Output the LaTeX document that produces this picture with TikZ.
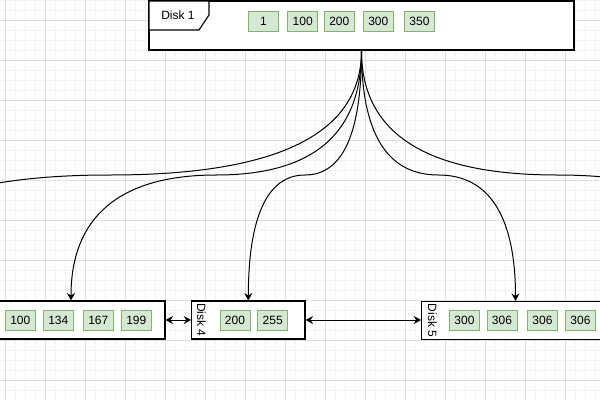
\documentclass[tikz,border=0pt]{standalone}
\usepackage{fontspec}
\setmainfont{Liberation Sans}
\usetikzlibrary{arrows.meta}
\definecolor{cellfill}{HTML}{D5E8D4}
\definecolor{cellline}{HTML}{82B366}
\definecolor{gridminor}{HTML}{F2F2F2}
\definecolor{gridmajor}{HTML}{E0E0E0}
\begin{document}
\begin{tikzpicture}[x=0.75pt,y=-0.75pt,
  every node/.style={font=\fontsize{9pt}{10pt}\selectfont},
  cell/.style={draw=cellline,fill=cellfill,line width=0.75pt,minimum width=22.5pt,minimum height=15pt,inner sep=0pt},
  disk/.style={draw=black,fill=white,line width=0.9pt,inner sep=0pt,minimum height=28.5pt},
  link/.style={draw=black,line width=0.75pt,-{Stealth[length=5.5pt,width=6pt]}},
  dlink/.style={draw=black,line width=0.75pt,{Stealth[length=5.5pt,width=6pt]}-{Stealth[length=5.5pt,width=6pt]}}
]
\useasboundingbox (0,0) rectangle (600,400);
\clip (0,0) rectangle (600,400);
\fill[white] (0,0) rectangle (600,400);
% grid
\foreach \x in {5,15,...,595} \draw[gridminor,line width=0.6pt] (\x,0) -- (\x,400);
\foreach \y in {0,10,...,400} \draw[gridminor,line width=0.6pt] (0,\y) -- (600,\y);
\foreach \x in {5,45,...,595} \draw[gridmajor,line width=0.6pt] (\x,0) -- (\x,400);
\foreach \y in {20,60,...,400} \draw[gridmajor,line width=0.6pt] (0,\y) -- (600,\y);

% Disk 1
\node[disk,minimum width=318.75pt,minimum height=36.75pt] (d1) at (361.5,25.5) {};
\draw[line width=0.9pt,fill=white] (149,1) -- (209,1) -- (209,15) -- (199,30) -- (149,30) -- cycle;
\node (d1lab) at (178,15.5) {Disk 1};
\node[cell] (c11) at (263.5,21) {1};
\node[cell] (c12) at (302.7,21) {100};
\node[cell] (c13) at (339.3,21) {200};
\node[cell] (c14) at (378.3,21) {300};
\node[cell] (c15) at (419.5,21) {350};

% bottom boxes
\node[disk,minimum width=141pt] (dl) at (71,320) {};
\node[cell] (cl1) at (20.3,320.5) {100};
\node[cell] (cl2) at (58.3,320.5) {134};
\node[cell] (cl3) at (98.3,320.5) {167};
\node[cell] (cl4) at (136.3,320.5) {199};

\node[disk,minimum width=85pt] (d4) at (248.35,320) {};
\node[rotate=-90] (d4lab) at (201.5,320) {Disk 4};
\node[cell] (c41) at (235,320.5) {200};
\node[cell] (c42) at (272.7,320.5) {255};

\node[disk,minimum width=140.7pt] (d5) at (515.5,320.5) {};
\node[rotate=-90] (d5lab) at (432.5,320.5) {Disk 5};
\node[cell] (c51) at (464.5,320.5) {300};
\node[cell] (c52) at (502,320.5) {306};
\node[cell] (c53) at (542.5,320.5) {306};
\node[cell] (c54) at (580.5,320.5) {306};

% off-screen targets and curve midpoints
\coordinate (offL) at (-142,300);
\coordinate (offR) at (753,300);
\coordinate (m1) at (109.75,175);
\coordinate (m2) at (216.25,175);
\coordinate (m3) at (304.95,175);
\coordinate (m4) at (438.5,175);
\coordinate (m5) at (557.25,175);

% curved connectors
\draw[line width=0.75pt] (d1.south) .. controls +(0,83.33) and +(167.83,0) .. (m1)
  .. controls +(-167.83,0) and +(0,-83.33) .. (offL);
\draw[link] (d1.south) .. controls +(0,83.33) and +(96.83,0) .. (m2)
  .. controls +(-96.83,0) and +(0,-83.33) .. (dl.north);
\draw[link] (d1.south) .. controls +(0,83.33) and +(37.7,0) .. (m3)
  .. controls +(-37.7,0) and +(0,-83.33) .. (d4.north);
\draw[link] (d1.south) .. controls +(0,83.33) and +(-51.33,0) .. (m4)
  .. controls +(51.33,0) and +(0,-83.33) .. (d5.north);
\draw[line width=0.75pt] (d1.south) .. controls +(0,83.33) and +(-130.5,0) .. (m5)
  .. controls +(130.5,0) and +(0,-83.33) .. (offR);

% horizontal double arrows
\draw[dlink] (dl.east) -- (d4.west);
\draw[dlink] (d4.east) -- (d4.east -| d5.west);
\end{tikzpicture}
\end{document}
